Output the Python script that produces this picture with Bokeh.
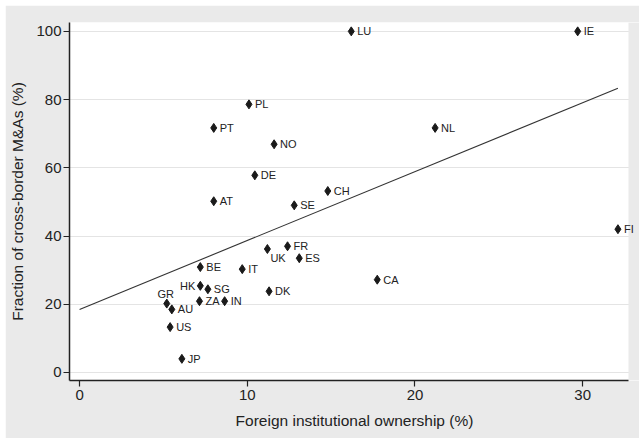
import numpy as np
from bokeh.plotting import figure
from bokeh.models import ColumnDataSource, LabelSet, FixedTicker, BoxAnnotation
from bokeh.core.properties import value
from bokeh.embed import file_html
from bokeh.resources import INLINE

countries = ["LU", "IE", "PL", "PT", "NO", "NL", "DE", "CH", "AT", "SE", "FI", "FR", "UK",
             "ES", "IT", "BE", "CA", "HK", "SG", "DK", "GR", "AU", "ZA", "IN", "US", "JP"]
foreign_own = [16.2, 29.7, 10.1, 8.0, 11.6, 21.2, 10.45, 14.8, 8.0, 12.8, 32.1, 12.4, 11.2,
               13.1, 9.7, 7.2, 17.75, 7.2, 7.65, 11.3, 5.2, 5.5, 7.15, 8.65, 5.4, 6.1]
cross_border = [100.0, 100.0, 78.6, 71.7, 66.9, 71.7, 57.8, 53.2, 50.2, 49.0, 42.0, 37.0, 36.2,
                33.5, 30.3, 30.9, 27.2, 25.4, 24.4, 23.8, 20.2, 18.5, 20.9, 20.9, 13.3, 4.0]
x_ticks = [0, 10, 20, 30]
y_ticks = [0, 20, 40, 60, 80, 100]

# linear fit drawn from 0 to the largest x
slope, intercept = np.polyfit(foreign_own, cross_border, 1)
fit_x = [0.0, max(foreign_own)]
fit_y = [intercept + slope * v for v in fit_x]

FONT = "Liberation Sans"
TXT = "#222222"
BG = "#eaeaea"

X_START, X_END = -0.6, 32.73      # visible plot region
FRAME_W = 559                     # px of the visible plot region
EXTRA_W = 11                      # grey strip to the right (labels may run into it)
x_full_end = X_START + (X_END - X_START) * (FRAME_W + EXTRA_W) / FRAME_W

p = figure(width=634, height=433, x_range=(X_START, x_full_end), y_range=(-2.35, 102.6),
           output_backend="svg", toolbar_location=None, margin=(5, 0, 0, 5),
           background_fill_color="white", border_fill_color=BG,
           outline_line_color=None,
           min_border_left=64, min_border_right=0, min_border_top=17, min_border_bottom=58)

p.xgrid.visible = False
p.ygrid.grid_line_color = "#e4e4e4"
p.ygrid.grid_line_width = 1
p.ygrid.ticker = FixedTicker(ticks=y_ticks)

# grey strip right of the visible plot region
p.add_layout(BoxAnnotation(left=X_END, fill_color=BG, fill_alpha=1.0, line_color=None,
                           level="underlay"))

p.xaxis.ticker = FixedTicker(ticks=x_ticks)
p.yaxis.ticker = FixedTicker(ticks=y_ticks)
p.xaxis.bounds = (X_START, X_END)
for ax in (p.xaxis[0], p.yaxis[0]):
    ax.axis_line_color = TXT
    ax.axis_line_width = 1.5
    ax.major_tick_line_color = TXT
    ax.major_tick_line_width = 1.2
    ax.major_tick_out = 6
    ax.major_tick_in = 0
    ax.minor_tick_out = 0
    ax.minor_tick_in = 0
    ax.major_label_text_font = FONT
    ax.major_label_text_font_size = "15px"
    ax.major_label_text_color = TXT
    ax.axis_label_text_font = FONT
    ax.axis_label_text_font_size = "15.5px"
    ax.axis_label_text_font_style = "normal"
    ax.axis_label_text_color = TXT

p.xaxis.axis_label = "Foreign institutional ownership (%)"
p.yaxis.axis_label = "Fraction of cross-border M&As (%)"
p.xaxis.major_label_standoff = 3
p.xaxis.axis_label_standoff = 9
p.yaxis.major_label_standoff = 2
p.yaxis.axis_label_standoff = 7
p.yaxis.major_label_orientation = "horizontal"

p.line(fit_x, fit_y, line_color="#333333", line_width=1.1)

src = ColumnDataSource(dict(x=foreign_own, y=cross_border, name=countries))
p.scatter("x", "y", source=src, marker="diamond", size=9, fill_color="#1a1a1a",
          line_color="#1a1a1a")

def subset(names):
    idx = [i for i, c in enumerate(countries) if c in names]
    return ColumnDataSource(dict(x=[foreign_own[i] for i in idx],
                                 y=[cross_border[i] for i in idx],
                                 name=[countries[i] for i in idx]))

special = {"GR", "HK", "UK"}
common = dict(x="x", y="y", text="name", text_font=value(FONT), text_font_size="11px",
              text_color=TXT)
p.add_layout(LabelSet(source=subset([c for c in countries if c not in special]),
                      x_offset=6, y_offset=0, text_align="left", text_baseline="middle",
                      **common))
p.add_layout(LabelSet(source=subset(["GR"]), x_offset=-1, y_offset=4,
                      text_align="center", text_baseline="bottom", **common))
p.add_layout(LabelSet(source=subset(["HK"]), x_offset=-5, y_offset=0,
                      text_align="right", text_baseline="middle", **common))
p.add_layout(LabelSet(source=subset(["UK"]), x_offset=3, y_offset=-3,
                      text_align="left", text_baseline="top", **common))

open("out.html", "w").write(file_html(p, INLINE))
